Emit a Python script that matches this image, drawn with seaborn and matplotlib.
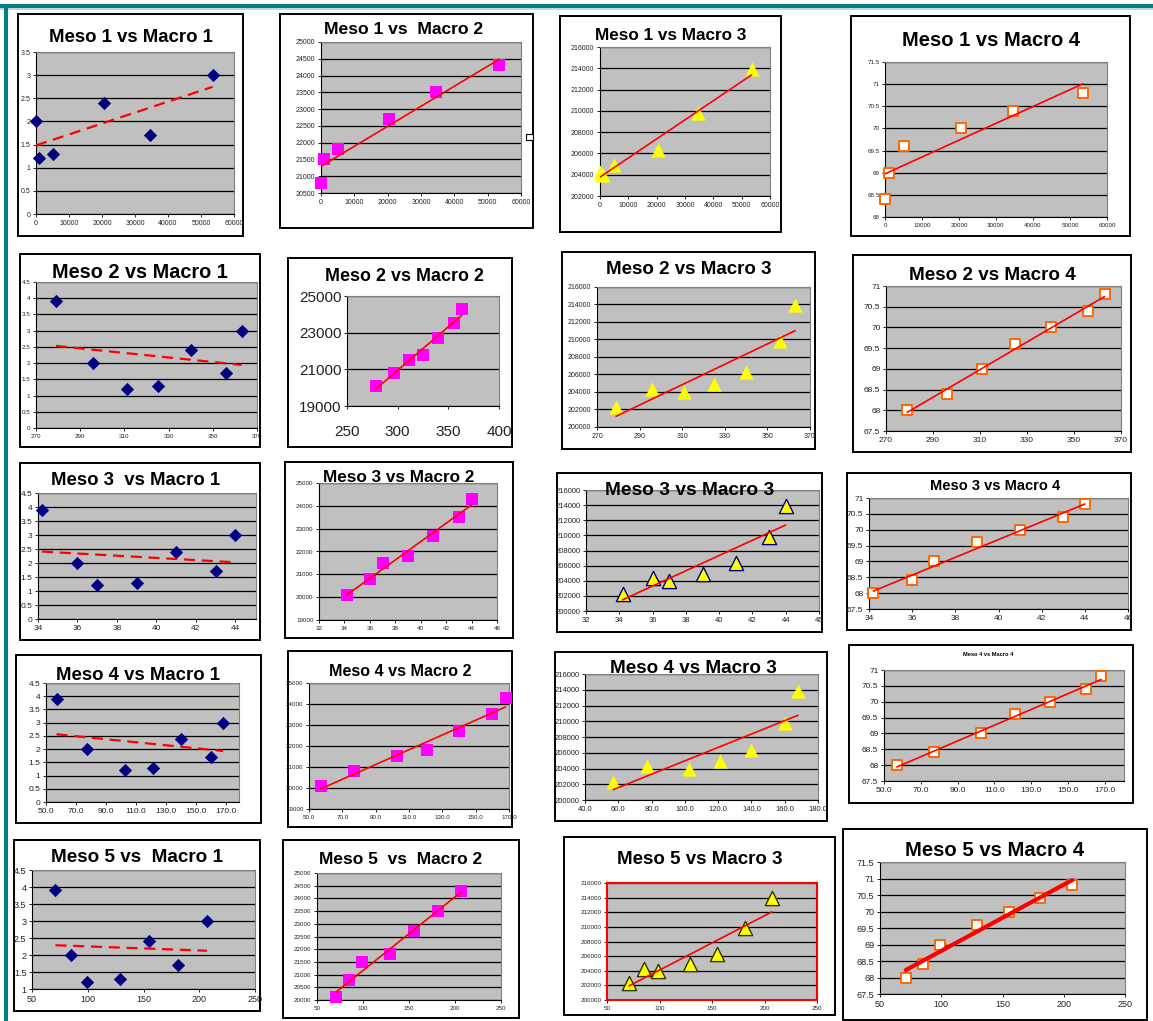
import numpy as np
import matplotlib
matplotlib.use("Agg")
import matplotlib.pyplot as plt
from matplotlib.patches import Rectangle
from matplotlib.ticker import FixedLocator, FuncFormatter
import seaborn as sns

# ---- observations (7 periods) ----
meso1 = [np.nan, 0, 1000, 5000, 20500, 34500, 53500]
meso2 = [279, 296, 311, 325, 340, 356, 363]
meso3 = [34.2, 36, 37, 39, 41, 43, 44]
meso4 = [57, 77, 102.5, 121, 140, 160, 168]
meso5 = [71, 85, 99, 129, 155, 181, 207]

macro1 = [3.9, 2.0, 1.2, 1.3, 2.4, 1.7, 3.0]
macro2 = [20100, 20800, 21500, 21800, 22700, 23500, 24300]
macro3 = [202300, 204300, 204000, 204900, 206300, 209800, 213900]
macro4 = [68.0, 68.4, 69.0, 69.6, 70.0, 70.4, 70.8]

meso = {1: meso1, 2: meso2, 3: meso3, 4: meso4, 5: meso5}
macro = {1: macro1, 2: macro2, 3: macro3, 4: macro4}

titles = [
    ["Meso 1 vs Macro 1", "Meso 1 vs  Macro 2", "Meso 1 vs Macro 3", "Meso 1 vs Macro 4"],
    ["Meso 2 vs Macro 1", "Meso 2 vs Macro 2", "Meso 2 vs Macro 3", "Meso 2 vs Macro 4"],
    ["Meso 3  vs Macro 1", "Meso 3 vs Macro 2", "Meso 3 vs Macro 3", "Meso 3 vs Macro 4"],
    ["Meso 4 vs Macro 1", "Meso 4 vs Macro 2", "Meso 4 vs Macro 3", "Meso 4 vs Macro 4"],
    ["Meso 5 vs  Macro 1", "Meso 5  vs  Macro 2", "Meso 5 vs Macro 3", "Meso 5 vs Macro 4"],
]

# axis scales per panel: (xmin, xmax, xstep, xlim_right, xfmt), (ymin, ymax, ystep)
x_scales = {
    1: [(0, 60000, 10000, 60000, "g")] * 4,
    2: [(270, 370, 20, 370, "g"), (250, 400, 50, 400, "g"),
        (270, 370, 20, 370, "g"), (270, 370, 20, 370, "g")],
    3: [(34, 44, 2, 45.05, "g"), (32, 46, 2, 46, "g"),
        (32, 46, 2, 46, "g"), (34, 46, 2, 46, "g")],
    4: [(50, 170, 20, 178.6, ".1f"), (50, 170, 20, 170, ".1f"),
        (40, 180, 20, 180, ".1f"), (50, 170, 20, 180.4, ".1f")],
    5: [(50, 250, 50, 250, "g")] * 4,
}
y_scales = {
    1: [(0, 3.5, 0.5), (20500, 25000, 500), (202000, 216000, 2000), (68, 71.5, 0.5)],
    2: [(0, 4.5, 0.5), (19000, 25000, 2000), (200000, 216000, 2000), (67.5, 71, 0.5)],
    3: [(0, 4.5, 0.5), (19000, 25000, 1000), (200000, 216000, 2000), (67.5, 71, 0.5)],
    4: [(0, 4.5, 0.5), (19000, 25000, 1000), (200000, 216000, 2000), (67.5, 71, 0.5)],
    5: [(1, 4.5, 0.5), (20000, 25000, 500), (200000, 216000, 2000), (67.5, 71.5, 0.5)],
}

# ---- layout (pixels): box, plot area, title y, title size, title x offset, tick size ----
layout = {
    (1, 1): ((18, 243, 14, 236), (36, 234, 52, 214), 38, 13.4, 0.50, 5),
    (1, 2): ((280, 533, 14, 228), (321, 521, 42, 193), 30, 12.6, 0.49, 5),
    (1, 3): ((560, 781, 16, 232), (600, 770, 47, 196), 36, 12.3, 0.50, 5),
    (1, 4): ((851, 1130, 16, 236), (885, 1107, 62, 217), 40, 14.5, 0.50, 4.5),
    (2, 1): ((20, 260, 254, 447), (36, 257, 282, 428), 273, 14.3, 0.50, 4.5),
    (2, 2): ((288, 512, 258, 447), (347, 499, 296, 406), 276, 12.9, 0.52, 11),
    (2, 3): ((562, 815, 252, 449), (597, 810, 287, 427), 270, 13.5, 0.50, 5),
    (2, 4): ((853, 1131, 255, 452), (886, 1121, 286, 431), 275, 13.6, 0.50, 6),
    (3, 1): ((20, 260, 463, 640), (38, 256, 493, 619), 480, 13.4, 0.48, 6),
    (3, 2): ((285, 513, 462, 638), (319, 497, 483, 620), 477, 12.3, 0.50, 4.5),
    (3, 3): ((557, 822, 473, 632), (586, 819, 490, 611), 490, 13.8, 0.50, 5.5),
    (3, 4): ((847, 1131, 473, 630), (869, 1128, 498, 609), 486, 10.5, 0.52, 6),
    (4, 1): ((16, 261, 655, 823), (46, 239, 683, 802), 676, 13.4, 0.50, 6),
    (4, 2): ((288, 512, 651, 827), (309, 509, 683, 809), 672, 11.6, 0.50, 4.5),
    (4, 3): ((555, 827, 652, 821), (585, 818, 674, 800), 668, 13.6, 0.51, 5.5),
    (4, 4): ((849, 1133, 645, 803), (884, 1124, 670, 781), 655, 4.1, 0.49, 6),
    (5, 1): ((14, 260, 840, 1011), (32, 255, 870, 989), 857, 13.6, 0.50, 6.5),
    (5, 2): ((283, 519, 840, 1018), (317, 501, 873, 1000), 860, 12.5, 0.50, 4.5),
    (5, 3): ((564, 835, 837, 1015), (607, 817, 883, 1000), 859, 13.5, 0.50, 4.5),
    (5, 4): ((843, 1147, 829, 1020), (880, 1125, 862, 994), 850, 14.6, 0.50, 6.5),
}

marker_styles = {
    1: dict(marker="D", s=46, fc="#000080", ec="#000080", lw=0),
    2: dict(marker="s", s=64, fc="#FF00FF", ec="#FF00FF", lw=0),
    3: dict(marker="^", s=105, fc="#FFFF00", ec="#FFFF00", lw=0),
    4: dict(marker="s", s=56, fc="white", ec="#FF6600", lw=1.4),
}

W, H = 1153, 1021
sns.set_style("white")
plt.rcParams["font.family"] = ["Liberation Sans", "DejaVu Sans"]

fig = plt.figure(figsize=(W / 100, H / 100), dpi=100)
fig.patch.set_facecolor("white")


def fx(x):
    return x / W


def fy(y):
    return 1 - y / H


def add_rect(x0, x1, y0, y1, **kw):
    fig.patches.append(Rectangle((fx(x0), fy(y1)), (x1 - x0) / W, (y1 - y0) / H,
                                 transform=fig.transFigure, figure=fig, **kw))


# slide frame
add_rect(0, W, 4, 8, facecolor="#008080", edgecolor="none", zorder=-10)
add_rect(0, W, 8, 10, facecolor="#B8DCDC", edgecolor="none", zorder=-10)
add_rect(4, 8, 4, H, facecolor="#008080", edgecolor="none", zorder=-10)

for r in range(1, 6):
    for c in range(1, 5):
        box, plot, ty, tsize, txrel, fs = layout[(r, c)]
        add_rect(box[0], box[1], box[2], box[3], facecolor="white",
                 edgecolor="black", lw=1.4, zorder=-5)
        ax = fig.add_axes([fx(plot[0]), fy(plot[3]), (plot[1] - plot[0]) / W,
                           (plot[3] - plot[2]) / H])
        ax.set_facecolor("#C0C0C0")

        st = dict(marker_styles[c])
        if c == 3 and r == 3:
            st.update(ec="#000080", lw=1.0)
        if c == 3 and r == 5:
            st.update(ec="#333300", lw=1.0)
        if c == 1:
            lkw = dict(color="#FF0000", lw=1.6, linestyle=(0, (5, 3)))
        else:
            lkw = dict(color="#FF0000", lw=3.0 if (r, c) == (5, 4) else 1.2)

        sns.regplot(x=np.array(meso[r], dtype=float), y=np.array(macro[c], dtype=float),
                    ax=ax, ci=None, truncate=True, marker=st["marker"],
                    scatter_kws=dict(s=st["s"], facecolor=st["fc"], edgecolor=st["ec"],
                                     linewidths=st["lw"], alpha=1, clip_on=False, zorder=3),
                    line_kws=dict(zorder=4, **lkw))

        x0, x1, xs, xr, xfmt = x_scales[r][c - 1]
        y0, y1, ys = y_scales[r][c - 1]
        xt = np.arange(x0, x1 + xs / 2, xs)
        yt = np.arange(y0, y1 + ys / 2, ys)
        ax.set_xlim(x0, xr)
        ax.set_ylim(y0, y1)
        ax.xaxis.set_major_locator(FixedLocator(xt))
        ax.yaxis.set_major_locator(FixedLocator(yt))
        ax.xaxis.set_major_formatter(FuncFormatter(lambda v, p, f=xfmt: format(v, f)))
        ax.yaxis.set_major_formatter(FuncFormatter(lambda v, p: format(round(v, 3), "g")))
        ax.set_xlabel("")
        ax.set_ylabel("")
        ax.set_axisbelow(True)
        ax.yaxis.grid(True, color="black", lw=0.9)
        ax.xaxis.grid(False)
        ax.tick_params(direction="out", length=2.5, width=0.6, pad=1.5,
                       labelsize=fs, labelcolor="#222222", color="black",
                       bottom=True, left=True)
        if (r, c) == (2, 2):
            ax.tick_params(axis="x", pad=11)
        for side in ("left", "bottom"):
            ax.spines[side].set_color("black")
            ax.spines[side].set_linewidth(0.8)
        for side in ("top", "right"):
            ax.spines[side].set_color("#808080")
            ax.spines[side].set_linewidth(0.8)
        if (r, c) == (5, 3):
            for sp in ax.spines.values():
                sp.set_color("#FF0000")
                sp.set_linewidth(1.5)

        tx = box[0] + txrel * (box[1] - box[0])
        fig.text(fx(tx), fy(ty), titles[r - 1][c - 1], ha="center", va="center",
                 fontsize=tsize, fontweight="bold", color="black", zorder=6)

# small handle on the right border of the second chart
add_rect(526, 533, 134, 140, facecolor="white", edgecolor="black", lw=0.8, zorder=-4)

fig.savefig("out.png", dpi=100, facecolor="white")
